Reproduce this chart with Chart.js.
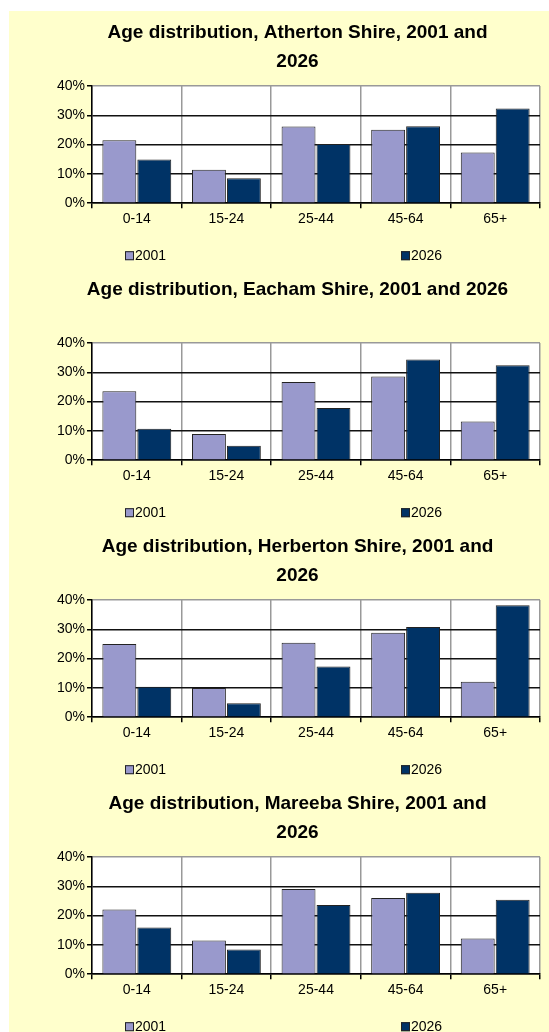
<!DOCTYPE html>
<html lang="en">
<head>
<meta charset="UTF-8">
<title>Age distribution, 2001 and 2026</title>
<script src="https://cdn.jsdelivr.net/npm/chart.js"></script>
<style>
  html, body { margin: 0; padding: 0; background: #fff; overflow: hidden; }
  #panel { position: absolute; left: 9px; top: 11px; width: 540px; height: 1021px; background: #ffffcc; }
  .box { position: absolute; left: 0; width: 540px; height: 258px; }
</style>
</head>
<body>
<div id="panel">
  <div class="box" style="top:0px"><canvas id="c0"></canvas></div>
  <div class="box" style="top:257px"><canvas id="c1"></canvas></div>
  <div class="box" style="top:514px"><canvas id="c2"></canvas></div>
  <div class="box" style="top:771px"><canvas id="c3"></canvas></div>
</div>
<script>
// values, percent of shire population
var ageGroups = ['0-14', '15-24', '25-44', '45-64', '65+'];
var seriesNames = ['2001', '2026'];

var atherton2001 = [21.5, 11.4, 26.2, 25.1, 17.3];
var atherton2026 = [14.9, 8.5, 20.2, 26.3, 32.3];
var eacham2001 = [23.5, 8.9, 26.7, 28.6, 13.2];
var eacham2026 = [10.7, 4.9, 17.8, 34.4, 32.4];
var herberton2001 = [25.0, 10.0, 25.4, 28.8, 12.1];
var herberton2026 = [10.4, 4.8, 17.3, 30.8, 38.2];
var mareeba2001 = [22.1, 11.5, 29.1, 26.0, 12.2];
var mareeba2026 = [15.9, 8.4, 23.6, 27.8, 25.4];

var titles = [
    ['Age distribution, Atherton Shire, 2001 and', '2026'],
    ['Age distribution, Eacham Shire, 2001 and 2026', ''],
    ['Age distribution, Herberton Shire, 2001 and', '2026'],
    ['Age distribution, Mareeba Shire, 2001 and', '2026']
];
var shireData = [
    [atherton2001, atherton2026],
    [eacham2001, eacham2026],
    [herberton2001, herberton2026],
    [mareeba2001, mareeba2026]
];

var FONT = '"Liberation Sans", Arial, sans-serif';
var fills = ['#9999cc', '#003366'];

// white plot area on the yellow background
var plotBg = {
    id: 'plotBg',
    beforeDraw: function(chart) {
        var a = chart.chartArea, ctx = chart.ctx;
        ctx.save();
        ctx.fillStyle = '#ffffff';
        ctx.fillRect(a.left, a.top, a.right - a.left, a.bottom - a.top);
        ctx.restore();
    }
};

// excel style legend: two items far apart under the axis
var spreadLegend = {
    id: 'spreadLegend',
    afterDraw: function(chart, args, opts) {
        var ctx = chart.ctx;
        var y = chart.chartArea.bottom + opts.offsetY;
        ctx.save();
        ctx.font = '14px ' + FONT;
        ctx.textBaseline = 'middle';
        chart.data.datasets.forEach(function(ds, i) {
            var x = opts.xs[i];
            ctx.fillStyle = ds.backgroundColor;
            ctx.fillRect(x, y - 4, 9, 9);
            ctx.strokeStyle = '#222';
            ctx.lineWidth = 1;
            ctx.strokeRect(x + 0.5, y - 3.5, 8, 8);
            ctx.fillStyle = '#000';
            ctx.fillText(ds.label, x + 10, y + 1);
        });
        ctx.restore();
    }
};

shireData.forEach(function(pair, k) {
    var ctx = document.getElementById('c' + k).getContext('2d');
    new Chart(ctx, {
        type: 'bar',
        data: {
            labels: ageGroups,
            datasets: pair.map(function(vals, i) {
                return {
                    label: seriesNames[i],
                    data: vals,
                    backgroundColor: fills[i],
                    borderColor: '#222',
                    borderWidth: 1,
                    categoryPercentage: 0.78,
                    barPercentage: 0.97
                };
            })
        },
        options: {
            responsive: true,
            maintainAspectRatio: false,
            animation: false,
            layout: { padding: { left: 46, right: 9, top: 0, bottom: 38 } },
            plugins: {
                legend: { display: false },
                tooltip: { enabled: false },
                title: {
                    display: true,
                    text: titles[k],
                    color: '#000',
                    font: { family: FONT, size: 19, weight: 'bold', lineHeight: 1.526 },
                    padding: { top: 7, bottom: 10 }
                },
                spreadLegend: { xs: [116, 392], offsetY: 52 }
            },
            scales: {
                x: {
                    grid: {
                        offset: true,
                        color: '#999',
                        lineWidth: 1.5,
                        tickColor: '#000',
                        tickLength: 5
                    },
                    border: { color: '#000', width: 1.5 },
                    ticks: { color: '#000', padding: 3, font: { family: FONT, size: 14 } }
                },
                y: {
                    min: 0,
                    max: 40,
                    ticks: {
                        stepSize: 10,
                        color: '#000',
                        padding: 2,
                        font: { family: FONT, size: 14 },
                        callback: function(v) { return v + '%'; }
                    },
                    grid: {
                        color: function(c) { return c.tick && c.tick.value === 40 ? '#999' : '#111'; },
                        lineWidth: 1.5,
                        tickColor: '#000',
                        tickLength: 5
                    },
                    border: { color: '#000', width: 1.5 }
                }
            }
        },
        plugins: [plotBg, spreadLegend]
    });
});
</script>
</body>
</html>
